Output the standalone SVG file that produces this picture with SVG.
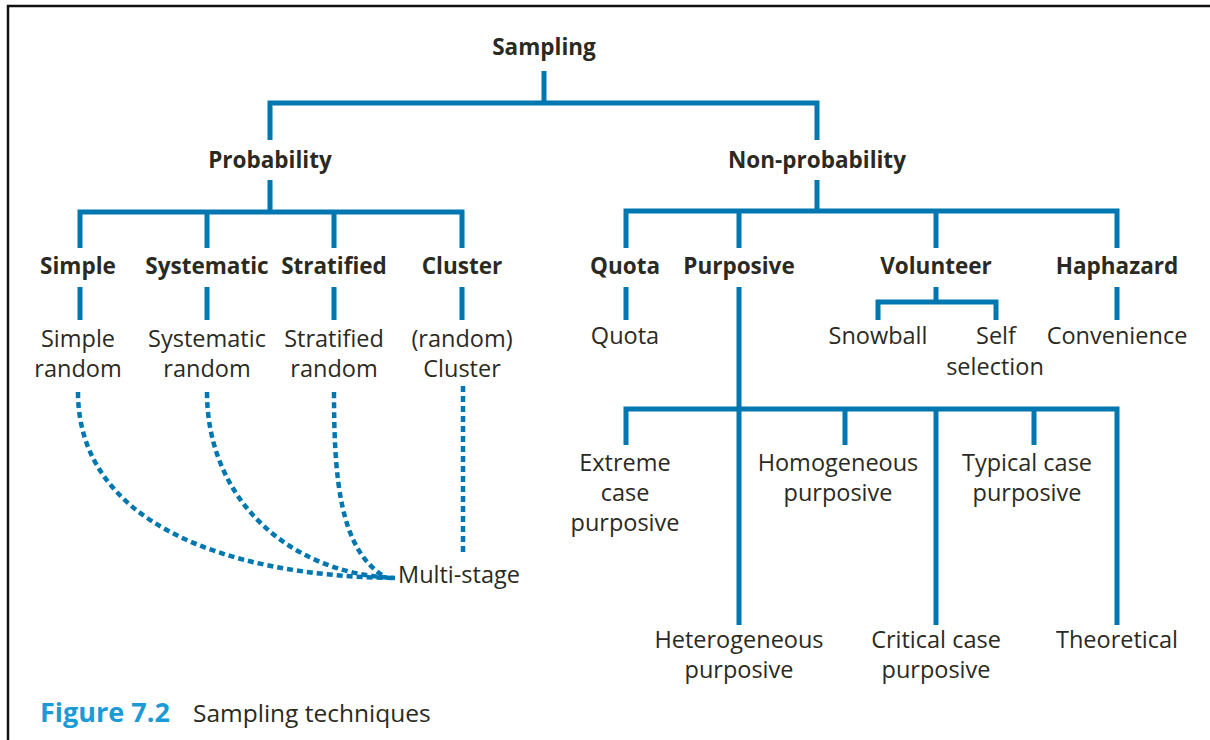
<svg xmlns="http://www.w3.org/2000/svg" width="1210" height="740" viewBox="0 0 1210 740">
<style>
text{font-family:"Open Sans","Noto Sans",sans-serif;fill:#2b2a22;text-anchor:middle;font-size:23.5px}
.b{font-weight:bold;font-size:22.5px}
.ln{stroke:#0077b0;stroke-width:5;fill:none}
.dt{stroke:#0077b0;stroke-width:4.5;fill:none;stroke-dasharray:6 4}
</style>
<rect width="1210" height="740" fill="#fff"/>
<path d="M8,740 V6 H1210" stroke="#111" stroke-width="2.5" fill="none"/>
<g id="connectors">
<path class="ln" d="M544,71 V103 M270,140 V103 H817 V140"/>
<path class="ln" d="M270,180 V212 M80,248 V212 H462 V248 M207,212 V248 M334,212 V248"/>
<path class="ln" d="M80,287 V320 M207,287 V320 M334,287 V320 M462,287 V320"/>
<path class="ln" d="M817,180 V211 M626,248 V211 H1117 V248 M739,211 V248 M936,211 V248"/>
<path class="ln" d="M626,287 V320 M1117,287 V320 M739,287 V625"/>
<path class="ln" d="M936,287 V302 M878,320 V302 H996 V320"/>
<path class="ln" d="M626,445 V409 H1117 V625 M845,409 V445 M1034,409 V445 M936,409 V625"/>
<path class="dt" d="M78,392 C78,520 220,576 395,578"/>
<path class="dt" d="M207,392 C207,500 290,574 395,578"/>
<path class="dt" d="M334,392 C334,480 340,550 385,577"/>
<path class="dt" d="M463,386 V556"/>
</g>
<g id="sampling"><text class="b" x="544" y="55">Sampling</text></g>
<g id="probability"><text class="b" x="270" y="168">Probability</text></g>
<g id="nonprobability"><text class="b" x="817" y="168">Non-probability</text></g>
<g id="simple"><text class="b" x="78" y="274">Simple</text></g>
<g id="systematic"><text class="b" x="207" y="274">Systematic</text></g>
<g id="stratified"><text class="b" x="334" y="274">Stratified</text></g>
<g id="cluster"><text class="b" x="462" y="274">Cluster</text></g>
<g id="simplerandom"><text x="78" y="347">Simple</text><text x="78" y="377">random</text></g>
<g id="systematicrandom"><text x="207" y="347">Systematic</text><text x="207" y="377">random</text></g>
<g id="stratifiedrandom"><text x="334" y="347">Stratified</text><text x="334" y="377">random</text></g>
<g id="randomcluster"><text x="462" y="347">(random)</text><text x="462" y="377">Cluster</text></g>
<g id="multistage"><text x="398" y="583" style="text-anchor:start">Multi-stage</text></g>
<g id="quota"><text class="b" x="625" y="274">Quota</text></g>
<g id="purposive"><text class="b" x="739" y="274">Purposive</text></g>
<g id="volunteer"><text class="b" x="936" y="274">Volunteer</text></g>
<g id="haphazard"><text class="b" x="1117" y="274">Haphazard</text></g>
<g id="quota2"><text x="625" y="344">Quota</text></g>
<g id="snowball"><text x="878" y="344">Snowball</text></g>
<g id="selfselection"><text x="996" y="344">Self</text><text x="995" y="375">selection</text></g>
<g id="convenience"><text x="1117" y="344">Convenience</text></g>
<g id="extreme"><text x="625" y="471">Extreme</text><text x="625" y="501">case</text><text x="625" y="531">purposive</text></g>
<g id="homogeneous"><text x="838" y="471">Homogeneous</text><text x="838" y="501">purposive</text></g>
<g id="typical"><text x="1027" y="471">Typical case</text><text x="1027" y="501">purposive</text></g>
<g id="heterogeneous"><text x="739" y="648">Heterogeneous</text><text x="739" y="678">purposive</text></g>
<g id="critical"><text x="936" y="648">Critical case</text><text x="936" y="678">purposive</text></g>
<g id="theoretical"><text x="1117" y="648">Theoretical</text></g>
<g id="caption"><text x="40" y="722" class="b" style="text-anchor:start;fill:#1b9ad6;font-size:27px">Figure 7.2</text><text x="193" y="722" style="text-anchor:start;font-size:24.5px">Sampling techniques</text></g>
</svg>
